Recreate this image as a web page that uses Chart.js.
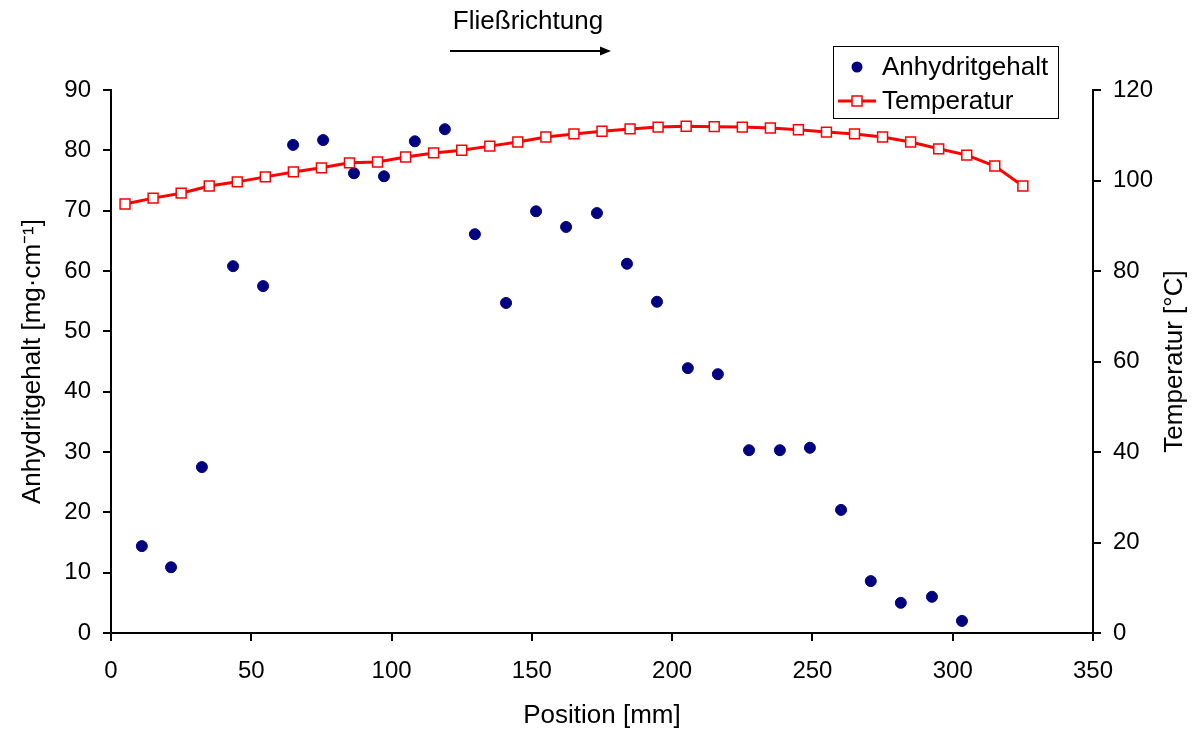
<!DOCTYPE html>
<html>
<head>
<meta charset="utf-8">
<script src="https://cdn.jsdelivr.net/npm/chart.js@4/dist/chart.umd.min.js"></script>
<style>
  html, body { margin: 0; padding: 0; background: #fff; }
  #wrap { width: 1196px; height: 731px; }
</style>
</head>
<body>
<div id="wrap"><canvas id="chart" width="1196" height="731"></canvas></div>
<script>
// Anhydritgehalt (scatter, left axis)
const anhPos = [11.0, 21.4, 32.4, 43.5, 54.2, 64.9, 75.6, 86.6, 97.3, 108.3, 119.0, 129.7, 140.8, 151.5,
    162.2, 173.2, 183.9, 194.6, 205.6, 216.3, 227.4, 238.4, 249.1, 260.2, 270.8, 281.5, 292.6, 303.3];
const anhValues = [14.4, 10.9, 27.5, 60.8, 57.5, 80.9, 81.7, 76.2, 75.7, 81.5, 83.5, 66.1, 54.7, 69.9,
    67.3, 69.6, 61.2, 54.9, 43.9, 42.9, 30.3, 30.3, 30.7, 20.4, 8.6, 5.0, 6.0, 2.0];

// Temperatur (line, right axis)
const tempPos = [5, 15, 25, 35, 45, 55, 65, 75, 85, 95, 105, 115, 125, 135, 145, 155, 165,
    175, 185, 195, 205, 215, 225, 235, 245, 255, 265, 275, 285, 295, 305, 315, 325];
const tempValues = [94.8, 96.1, 97.2, 98.8, 99.7, 100.8, 101.9, 102.8, 103.9, 104.1, 105.2, 106.1, 106.7,
    107.6, 108.5, 109.6, 110.3, 110.9, 111.4, 111.8, 112.0, 111.9, 111.8, 111.6, 111.2, 110.7, 110.3,
    109.6, 108.5, 107.0, 105.6, 103.2, 98.8];

const xTicks = [0, 50, 100, 150, 200, 250, 300, 350];
const yTicks = [0, 10, 20, 30, 40, 50, 60, 70, 80, 90];
const y1Ticks = [0, 20, 40, 60, 80, 100, 120];

const FONT = "'Liberation Sans', Arial, sans-serif";
const TICK_SIZE = 24;
const TEXT_SIZE = 26;

function toXY(xs, ys) {
    return xs.map((x, i) => ({ x: x, y: ys[i] }));
}

// arrow caption, right-hand axis title and the boxed legend
const extras = {
    id: 'extras',
    afterDraw(chart) {
        const ctx = chart.ctx;
        ctx.save();
        ctx.fillStyle = '#000';
        ctx.strokeStyle = '#000';
        ctx.font = TEXT_SIZE + 'px ' + FONT;
        ctx.textAlign = 'center';
        ctx.textBaseline = 'middle';
        ctx.fillText('Fließrichtung', 528, 22);

        ctx.lineWidth = 2;
        ctx.beginPath();
        ctx.moveTo(450, 51);
        ctx.lineTo(602, 51);
        ctx.stroke();
        ctx.beginPath();
        ctx.moveTo(611, 51);
        ctx.lineTo(600, 46.5);
        ctx.lineTo(600, 55.5);
        ctx.closePath();
        ctx.fill();

        // right title, reading bottom to top
        const area = chart.chartArea;
        ctx.save();
        ctx.translate(1175, (area.top + area.bottom) / 2);
        ctx.rotate(-Math.PI / 2);
        ctx.fillText('Temperatur [°C]', 0, 0);
        ctx.restore();

        // legend
        const ds = chart.data.datasets;
        ctx.fillStyle = '#fff';
        ctx.fillRect(833, 46, 225, 72);
        ctx.lineWidth = 1;
        ctx.strokeRect(833.5, 46.5, 225, 72);

        ctx.textAlign = 'left';
        ctx.fillStyle = '#000';
        ctx.fillText(ds[0].label, 882, 68);
        ctx.fillText(ds[1].label, 882, 102);

        ctx.fillStyle = ds[0].backgroundColor;
        ctx.beginPath();
        ctx.arc(857, 67, 5.5, 0, Math.PI * 2);
        ctx.fill();

        ctx.strokeStyle = ds[1].borderColor;
        ctx.lineWidth = 3;
        ctx.beginPath();
        ctx.moveTo(838, 101);
        ctx.lineTo(876, 101);
        ctx.stroke();
        ctx.fillStyle = '#fff';
        ctx.lineWidth = 1.5;
        ctx.fillRect(852, 96, 10, 10);
        ctx.strokeRect(852, 96, 10, 10);
        ctx.restore();
    }
};

new Chart(document.getElementById('chart').getContext('2d'), {
    type: 'scatter',
    data: {
        datasets: [{
            label: 'Anhydritgehalt',
            data: toXY(anhPos, anhValues),
            yAxisID: 'y',
            backgroundColor: '#000080',
            borderColor: '#000080',
            pointRadius: 5.5,
            pointHoverRadius: 5.5,
            showLine: false,
            order: 2
        }, {
            label: 'Temperatur',
            data: toXY(tempPos, tempValues),
            yAxisID: 'y1',
            showLine: true,
            borderColor: '#ff0000',
            borderWidth: 3,
            pointStyle: 'rect',
            pointRadius: 7,
            pointHoverRadius: 7,
            pointBackgroundColor: '#ffffff',
            pointBorderColor: '#ff0000',
            pointBorderWidth: 1.5,
            order: 1
        }]
    },
    options: {
        responsive: false,
        animation: false,
        events: [],
        layout: { padding: { top: 90, left: 0, right: 0, bottom: 0 } },
        plugins: {
            legend: { display: false },
            tooltip: { enabled: false }
        },
        scales: {
            x: {
                type: 'linear',
                min: 0,
                max: 350,
                afterBuildTicks: axis => { axis.ticks = xTicks.map(v => ({ value: v })); },
                afterFit: axis => { axis.height = 98; },
                border: { color: '#000', width: 2 },
                grid: { drawOnChartArea: false, drawTicks: true, tickLength: 8, color: '#000', lineWidth: 2 },
                ticks: { color: '#000', font: { family: FONT, size: TICK_SIZE }, padding: 16, maxRotation: 0 },
                title: {
                    display: true, text: 'Position [mm]', color: '#000',
                    font: { family: FONT, size: TEXT_SIZE }, padding: { top: 0, bottom: 0 }
                }
            },
            y: {
                position: 'left',
                min: 0,
                max: 90,
                afterBuildTicks: axis => { axis.ticks = yTicks.map(v => ({ value: v })); },
                afterFit: axis => { axis.width = 111; },
                border: { color: '#000', width: 2 },
                grid: { drawOnChartArea: false, drawTicks: true, tickLength: 8, color: '#000', lineWidth: 2 },
                ticks: { color: '#000', font: { family: FONT, size: TICK_SIZE }, padding: 12 },
                title: {
                    display: true, text: 'Anhydritgehalt [mg·cm⁻¹]', color: '#000',
                    font: { family: FONT, size: TEXT_SIZE }, padding: { top: 17, bottom: 0 }
                }
            },
            y1: {
                position: 'right',
                min: 0,
                max: 120,
                afterBuildTicks: axis => { axis.ticks = y1Ticks.map(v => ({ value: v })); },
                afterFit: axis => { axis.width = 103; },
                border: { color: '#000', width: 2 },
                grid: { drawOnChartArea: false, drawTicks: true, tickLength: 8, color: '#000', lineWidth: 2 },
                ticks: { color: '#000', font: { family: FONT, size: TICK_SIZE }, padding: 12 }
            }
        }
    },
    plugins: [extras]
});
</script>
</body>
</html>
